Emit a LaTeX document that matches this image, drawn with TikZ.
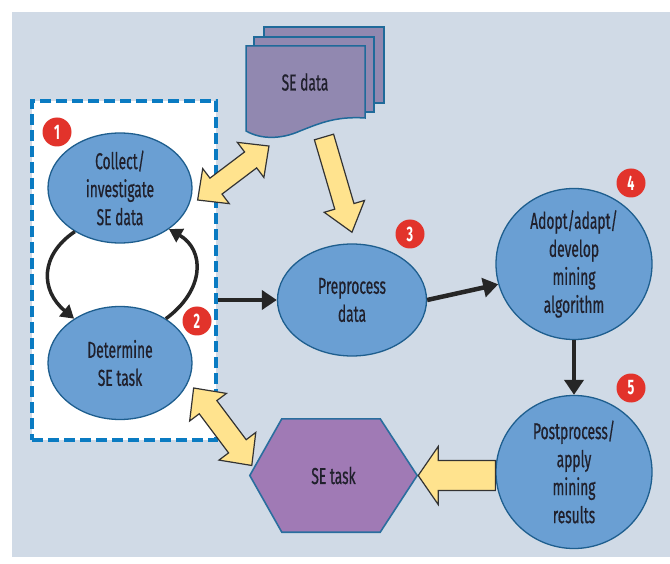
\documentclass[tikz,border=0pt]{standalone}
\usepackage{fontspec}
\setmainfont{Fira Sans}[FakeStretch=0.6]
\newfontfamily\lblfont{Fira Sans}[FakeStretch=0.6, FakeBold=0.6]
\usetikzlibrary{calc,shapes.geometric,arrows.meta}
\definecolor{bg}{HTML}{D0DAE6}
\definecolor{ellfill}{HTML}{6A9FD3}
\definecolor{ellline}{HTML}{1E5E8E}
\definecolor{docfill}{HTML}{9188B0}
\definecolor{docline}{HTML}{1F6A9A}
\definecolor{hexfill}{HTML}{A07AB5}
\definecolor{hexline}{HTML}{2A6E9E}
\definecolor{yel}{HTML}{FFE38E}
\definecolor{dashblue}{HTML}{0A7BC2}
\definecolor{badgered}{HTML}{E2332B}
\definecolor{txt}{HTML}{20202C}
\tikzset{
 proc/.style={ellipse, draw=ellline, line width=1.3pt, fill=ellfill, inner sep=0pt},
 lbl/.style={align=center, text=txt, inner sep=0pt, font=\lblfont\fontsize{23}{28}\selectfont},
 badge/.style={circle, fill=badgered, text=white, inner sep=0pt, minimum size=29pt, font=\bfseries\fontsize{21}{21}\selectfont},
 blackarrow/.style={-{Triangle[length=15pt,width=19pt]}, line width=4.5pt, black!85},
 looparrow/.style={-{Triangle[length=13pt,width=15pt]}, line width=3.5pt, black!85},
 fat/.style={fill=yel, draw=black!80, line width=1.2pt, line join=miter},
 sheet/.style={fill=docfill, draw=docline, line width=1.5pt},
}
% #1 from, #2 to, #3 shaft half width, #4 head half width, #5 head length
\newcommand\fatprep[5]{%
  \path let \p1=(#1), \p2=(#2), \n1={atan2(\y2-\y1,\x2-\x1)}, \n2={veclen(\x2-\x1,\y2-\y1)} in
    \pgfextra{\xdef\fatangR{\n1}\xdef\fatlenR{\n2}\xdef\fatx{\x1}\xdef\faty{\y1}};
  \pgfmathsetmacro\fatang{\fatangR}%
  \pgfmathsetmacro\fatlen{\fatlenR}%
  \pgfmathsetmacro\fatb{\fatlen-#5}%
}
\newcommand\singlefat[5]{%
  \fatprep{#1}{#2}{#3}{#4}{#5}%
  \begin{scope}[shift={(\fatx,\faty)}, rotate=\fatang]
    \draw[fat] (0pt,#3pt) -- (\fatb pt,#3pt) -- (\fatb pt,#4pt) -- (\fatlen pt,0pt)
      -- (\fatb pt,-#4pt) -- (\fatb pt,-#3pt) -- (0pt,-#3pt) -- cycle;
  \end{scope}}
\newcommand\doublefat[5]{%
  \fatprep{#1}{#2}{#3}{#4}{#5}%
  \begin{scope}[shift={(\fatx,\faty)}, rotate=\fatang]
    \draw[fat] (0pt,0pt) -- (#5pt,#4pt) -- (#5pt,#3pt) -- (\fatb pt,#3pt) -- (\fatb pt,#4pt)
      -- (\fatlen pt,0pt) -- (\fatb pt,-#4pt) -- (\fatb pt,-#3pt) -- (#5pt,-#3pt)
      -- (#5pt,-#4pt) -- cycle;
  \end{scope}}
\begin{document}
\begin{tikzpicture}[x=1pt,y=-1pt]
\useasboundingbox (0,0) rectangle (670,564);
\fill[white] (0,0) rectangle (670,564);
\fill[bg] (12,12) rectangle (670,557);

% dashed cycle box
\node[draw=dashblue, fill=white, line width=4pt, dash pattern=on 11pt off 5pt,
      minimum width=184pt, minimum height=339pt, inner sep=0pt] (cycle) at (124,270.5) {};

% SE data document stack
\draw[sheet] (264,27) rectangle (384,103);
\draw[sheet] (254,37) rectangle (374,112);
\draw[sheet] (246,46) -- (365,46) -- (365,118) .. controls (335,116) and (318,124) .. (300,131)
   .. controls (282,139) and (262,140) .. (246,131) -- cycle;
\node[lbl] (sedata) at (305,82) {SE data};

% process nodes
\node[proc, minimum width=144pt, minimum height=110pt,
      label={[lbl]center:Collect/\\investigate\\SE data}] (collect) at (120,188) {};
\node[proc, minimum width=144pt, minimum height=113pt,
      label={[lbl]center:Determine\\SE task}] (determine) at (120,363) {};
\node[proc, minimum width=149pt, minimum height=112pt,
      label={[lbl]center:Preprocess\\data}] (preprocess) at (352,300) {};
\node[proc, minimum width=156pt, minimum height=151pt,
      label={[lbl]center:Adopt/adapt/\\develop\\mining\\algorithm}] (adopt) at (574,264) {};
\node[proc, minimum width=156pt, minimum height=153pt,
      label={[lbl]center:Postprocess/\\apply\\mining\\results}] (post) at (574,472) {};

% SE task hexagon
\node[minimum width=167pt, minimum height=113pt, inner sep=0pt] (setask) at (333.5,475.5) {};
\draw[fill=hexfill, draw=hexline, line width=1.6pt]
  (setask.west) -- ($(setask.north west)+(32,0)$) -- ($(setask.north east)+(-37,0)$)
  -- (setask.east) -- ($(setask.south east)+(-37,0)$) -- ($(setask.south west)+(32,0)$) -- cycle;
\node[lbl] at (setask) {SE task};

% badges
\node[badge] (b1) at (57,132) {1};
\node[badge] (b2) at (197,321) {2};
\node[badge] (b3) at (410,234) {3};
\node[badge] (b4) at (631,183) {4};
\node[badge] (b5) at (631,388) {5};

% black connectors
\draw[blackarrow] (cycle.east |- preprocess.west) -- (preprocess.west);
\draw[blackarrow] (preprocess.east) -- (adopt.195);
\draw[blackarrow] (adopt.south) -- (post.north);
\draw[looparrow] (collect.224) .. controls (40,255) and (40,290) .. (determine.136);
\draw[looparrow] (determine.44) .. controls (205,290) and (205,250) .. (collect.320);

% yellow block arrows
\coordinate (a1s) at ($(collect.east)+(5,12)$);
\coordinate (a1e) at ($(sedata)+(-36,64)$);
\coordinate (a2s) at ($(sedata)+(19,55)$);
\coordinate (a2e) at ($(preprocess.north)+(0,-11)$);
\coordinate (a3s) at ($(determine.east)+(1,25)$);
\coordinate (a3e) at ($(setask.west)+(2,-10)$);
\coordinate (a4s) at (post.west |- setask.east);
\coordinate (a4e) at ($(setask.east)+(1,0)$);
\doublefat{a1s}{a1e}{10}{22}{23}
\singlefat{a2s}{a2e}{10}{21}{27}
\doublefat{a3s}{a3e}{11}{23}{24}
\singlefat{a4s}{a4e}{15}{29}{20}
\end{tikzpicture}
\end{document}
